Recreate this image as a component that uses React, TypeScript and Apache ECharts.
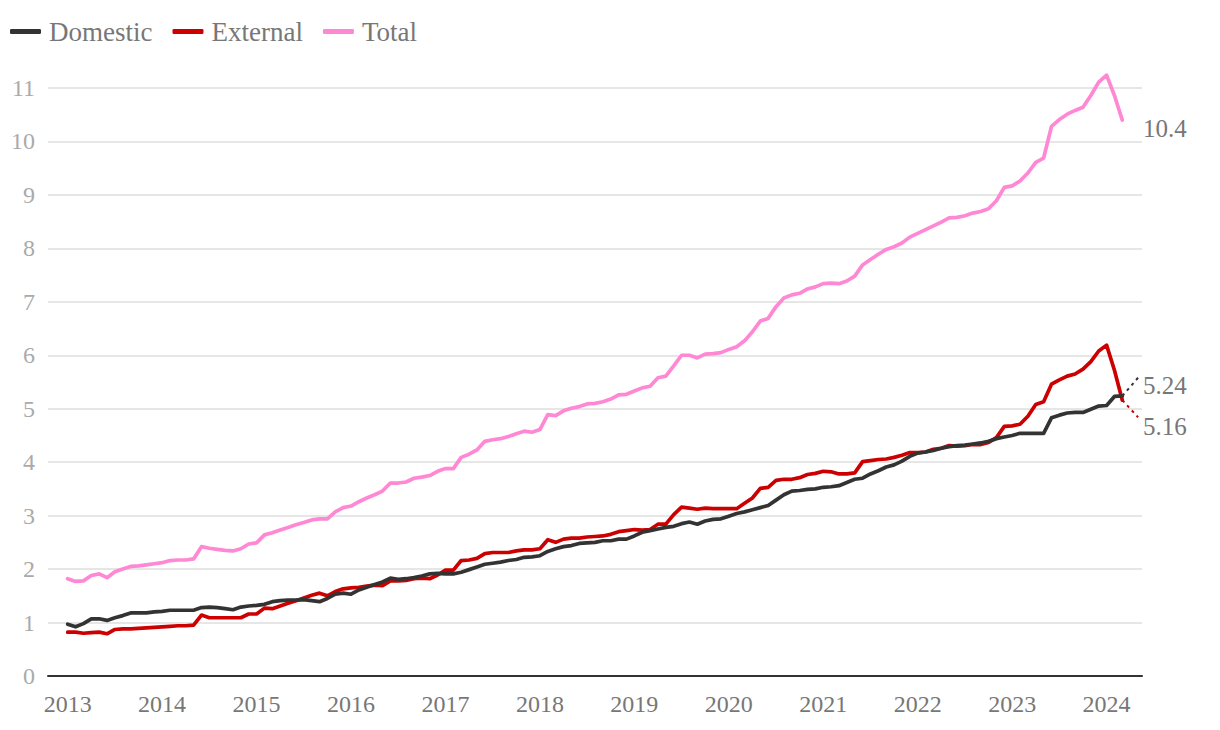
import React, { useEffect, useRef } from "react";
import * as echarts from "echarts";

const FONT = "'Liberation Serif', 'DejaVu Serif', serif";

// Months shown on the axis (padding months before Jan 2013 and after Mar 2024)
const years = [2013, 2014, 2015, 2016, 2017, 2018, 2019, 2020, 2021, 2022, 2023, 2024];
const padStart = ["2012-11", "2012-12"];
const padEnd = ["2024-04", "2024-05"];

const domestic = [
  0.97, 0.92, 0.98, 1.07, 1.07, 1.04, 1.09, 1.13, 1.18, 1.18, 1.18, 1.2,
  1.21, 1.23, 1.23, 1.23, 1.23, 1.28, 1.29, 1.28, 1.26, 1.24, 1.29, 1.31,
  1.32, 1.34, 1.39, 1.41, 1.42, 1.42, 1.43, 1.41, 1.39, 1.45, 1.53, 1.55,
  1.53, 1.61, 1.66, 1.71, 1.76, 1.83, 1.81, 1.82, 1.84, 1.87, 1.91, 1.92,
  1.91, 1.91, 1.94, 1.99, 2.04, 2.09, 2.11, 2.13, 2.16, 2.18, 2.22, 2.23,
  2.25, 2.33, 2.38, 2.42, 2.44, 2.48, 2.49, 2.5, 2.53, 2.53, 2.56, 2.56,
  2.62, 2.69, 2.72, 2.75, 2.78, 2.8, 2.85, 2.88, 2.84, 2.9, 2.93, 2.94,
  2.99, 3.04, 3.07, 3.11, 3.15, 3.19, 3.29, 3.39, 3.46, 3.47, 3.49, 3.5,
  3.53, 3.54, 3.56, 3.62, 3.68, 3.7, 3.78, 3.84, 3.91, 3.95, 4.02, 4.11,
  4.17, 4.19, 4.22, 4.26, 4.29, 4.31, 4.32, 4.34, 4.36, 4.39, 4.44, 4.47,
  4.5, 4.54, 4.54, 4.54, 4.54, 4.83, 4.88, 4.92, 4.93, 4.93, 4.99, 5.05,
  5.06, 5.23, 5.24,
];

const external = [
  0.82, 0.82, 0.8, 0.81, 0.82, 0.79, 0.87, 0.88, 0.88, 0.89, 0.9, 0.91,
  0.92, 0.93, 0.94, 0.94, 0.95, 1.14, 1.09, 1.09, 1.09, 1.09, 1.09, 1.16,
  1.16, 1.27, 1.26, 1.31, 1.36, 1.41, 1.46, 1.51, 1.55, 1.5, 1.58, 1.63,
  1.65, 1.66, 1.68, 1.7, 1.69, 1.78, 1.78, 1.79, 1.82, 1.83, 1.82, 1.89,
  1.98, 1.98, 2.16, 2.17, 2.2, 2.29, 2.31, 2.31, 2.31, 2.34, 2.36, 2.36,
  2.38, 2.55, 2.5, 2.56, 2.58, 2.58, 2.6, 2.61, 2.62, 2.65, 2.7, 2.72,
  2.74, 2.73, 2.74, 2.84, 2.84, 3.02, 3.16, 3.14, 3.12, 3.14, 3.13, 3.13,
  3.13, 3.13, 3.23, 3.33, 3.51, 3.53, 3.66, 3.68, 3.68, 3.71, 3.77, 3.79,
  3.83, 3.82, 3.78, 3.78, 3.8, 4.01, 4.03, 4.05, 4.06, 4.09, 4.13, 4.18,
  4.18, 4.19, 4.24, 4.26, 4.31, 4.3, 4.31, 4.33, 4.33, 4.37, 4.46, 4.67,
  4.68, 4.71, 4.86, 5.08, 5.13, 5.46, 5.54, 5.61, 5.65, 5.74, 5.88, 6.08,
  6.19, 5.72, 5.16,
];

const total = [
  1.82, 1.77, 1.78, 1.88, 1.91, 1.84, 1.95, 2.0, 2.05, 2.06, 2.08, 2.1,
  2.12, 2.16, 2.17, 2.17, 2.19, 2.42, 2.39, 2.37, 2.35, 2.34, 2.38, 2.47,
  2.49, 2.64, 2.68, 2.73, 2.78, 2.83, 2.87, 2.92, 2.94, 2.94, 3.07, 3.15,
  3.18, 3.26, 3.33, 3.39, 3.46, 3.61, 3.61, 3.63, 3.7, 3.72, 3.75, 3.83,
  3.88, 3.88, 4.09, 4.15, 4.23, 4.39, 4.42, 4.44, 4.48, 4.53, 4.58, 4.56,
  4.61, 4.89, 4.87, 4.96, 5.01, 5.04, 5.09, 5.1, 5.13, 5.18, 5.26, 5.27,
  5.33, 5.39, 5.42, 5.58, 5.61, 5.8, 6.0, 6.0, 5.95, 6.02, 6.03, 6.05,
  6.11, 6.16, 6.27, 6.44, 6.64, 6.69, 6.91, 7.07, 7.13, 7.16, 7.24, 7.28,
  7.34, 7.35, 7.34, 7.39, 7.48, 7.69, 7.79, 7.89, 7.98, 8.03, 8.1, 8.21,
  8.28, 8.35, 8.42, 8.49, 8.57, 8.58, 8.61, 8.66, 8.69, 8.74, 8.89, 9.14,
  9.17, 9.26, 9.41, 9.61, 9.69, 10.28, 10.41, 10.51, 10.58, 10.64, 10.86, 11.11,
  11.24, 10.86, 10.4,
];

const seriesNames = ["Domestic", "External", "Total"];
const seriesColors = ["#333333", "#cc0000", "#ff88d4"];
const endLabels = ["5.24", "5.16", "10.4"];
// where the end-value labels sit (value-axis units), and leader-line end values
const labelAnchor = [5.44, 4.66, 10.25];
const leaderEnd = [5.58, 4.84, null];

const yTicks = [0, 1, 2, 3, 4, 5, 6, 7, 8, 9, 10, 11];

function buildMonths(): string[] {
  const out: string[] = [...padStart];
  for (const y of years) {
    for (let m = 1; m <= 12; m++) {
      const key = `${y}-${String(m).padStart(2, "0")}`;
      out.push(key);
      if (y === 2024 && m === 3) return [...out, ...padEnd];
    }
  }
  return [...out, ...padEnd];
}

export default function App() {
  const ref = useRef<HTMLDivElement>(null);

  useEffect(() => {
    if (!ref.current) return;
    const chart = echarts.init(ref.current, undefined, { renderer: "svg" });
    const months = buildMonths();
    const lastMonth = "2024-03";
    const pad = (arr: number[]) => [
      ...padStart.map(() => null),
      ...arr,
      ...padEnd.map(() => null),
    ];
    const values = [domestic, external, total];

    const series = seriesNames.map((name, i) => {
      const last = values[i][values[i].length - 1];
      const s: any = {
        name,
        type: "line",
        data: pad(values[i]),
        symbol: "none",
        clip: false,
        z: i === 0 ? 4 : 3,
        lineStyle: { color: seriesColors[i], width: 3.7, join: "round", cap: "round" },
        itemStyle: { color: seriesColors[i] },
        markPoint: {
          silent: true,
          symbol: "circle",
          symbolSize: 0,
          data: [
            {
              coord: [padEnd[padEnd.length - 1], labelAnchor[i]],
              label: {
                show: true,
                position: "right",
                distance: 5,
                formatter: endLabels[i],
                color: "#777777",
                fontSize: 25,
                fontFamily: FONT,
              },
            },
          ],
        },
      };
      if (leaderEnd[i] !== null) {
        s.markLine = {
          silent: true,
          symbol: ["none", "none"],
          label: { show: false },
          lineStyle: { color: seriesColors[i], width: 2, type: [3, 4] },
          data: [
            [
              { coord: [lastMonth, last] },
              { coord: [padEnd[padEnd.length - 1], leaderEnd[i]] },
            ],
          ],
        };
      }
      return s;
    });

    chart.setOption({
      animation: false,
      backgroundColor: "#ffffff",
      textStyle: { fontFamily: FONT },
      legend: {
        data: seriesNames,
        left: 10,
        top: 18,
        padding: 0,
        icon: "roundRect",
        itemWidth: 31,
        itemHeight: 5,
        itemGap: 20,
        selectedMode: false,
        textStyle: {
          color: "#777777",
          fontSize: 27,
          fontFamily: FONT,
          padding: [0, 0, 0, 3],
        },
      },
      grid: { left: 48, right: 78, top: 88, bottom: 54, containLabel: false },
      xAxis: {
        type: "category",
        data: months,
        boundaryGap: true,
        axisLine: { show: true, lineStyle: { color: "#333333", width: 2 } },
        axisTick: { show: false },
        splitLine: { show: false },
        axisLabel: {
          interval: (_idx: number, val: string) => val.endsWith("-01"),
          formatter: (val: string) => val.slice(0, 4),
          color: "#777777",
          fontSize: 24,
          fontFamily: FONT,
          margin: 16,
        },
      },
      yAxis: {
        type: "value",
        min: yTicks[0],
        max: yTicks[yTicks.length - 1],
        interval: 1,
        axisLine: { show: false },
        axisTick: { show: false },
        splitLine: { show: true, lineStyle: { color: "#e6e6e6", width: 2 } },
        axisLabel: {
          color: "#aaaaaa",
          fontSize: 24,
          fontFamily: FONT,
          margin: 13,
        },
      },
      series,
    });

    return () => chart.dispose();
  }, []);

  return (
    <div
      ref={ref}
      style={{ position: "fixed", left: 0, top: 0, width: 1220, height: 730, background: "#fff" }}
    />
  );
}
